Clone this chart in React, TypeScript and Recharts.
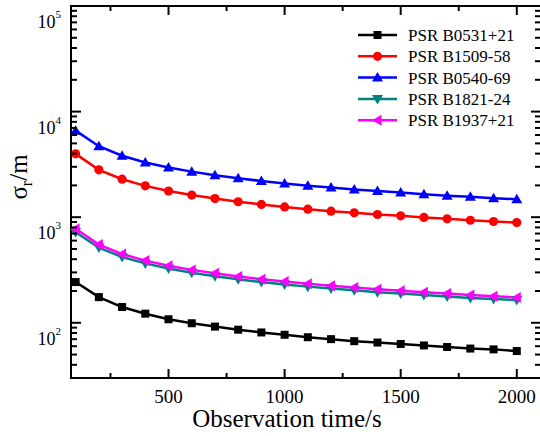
import React from "react";
import { LineChart, Line, XAxis, YAxis, Legend, ReferenceArea } from "recharts";

// observation time (s)
const times = [100, 200, 300, 400, 500, 600, 700, 800, 900, 1000, 1100, 1200, 1300, 1400, 1500, 1600, 1700, 1800, 1900, 2000];

// sigma_r (m)
const b0531 = [243, 175, 141, 122, 108, 99, 92, 86, 81, 77, 73, 70, 67, 65, 63, 61, 59, 57, 56, 54];
const b1509 = [3980, 2810, 2290, 1980, 1770, 1620, 1500, 1400, 1320, 1250, 1190, 1140, 1100, 1060, 1030, 995, 965, 935, 910, 890];
const b0540 = [6600, 4700, 3820, 3300, 2950, 2700, 2500, 2340, 2200, 2090, 1990, 1910, 1830, 1770, 1710, 1650, 1600, 1560, 1515, 1480];
const b1821 = [720, 515, 420, 365, 326, 298, 276, 258, 243, 231, 220, 211, 203, 195, 189, 183, 177, 172, 168, 164];
const b1937 = [777, 550, 448, 388, 347, 317, 294, 275, 259, 246, 234, 224, 216, 208, 201, 195, 189, 183, 178, 174];

const xMajor = [500, 1000, 1500, 2000];
const xMinor = [250, 750, 1250, 1750];
const yMajor = [100, 1000, 10000, 100000];
const yMinor = [40, 50, 60, 70, 80, 90, 200, 300, 400, 500, 600, 700, 800, 900, 2000, 3000, 4000, 5000, 6000, 7000, 8000, 9000, 20000, 30000, 40000, 50000, 60000, 70000, 80000, 90000];

const X_DOMAIN = [80, 2100];
const Y_DOMAIN = [30, 100000];

const series = [
  { key: "b0531", name: "PSR B0531+21", color: "#000000", shape: "square" },
  { key: "b1509", name: "PSR B1509-58", color: "#ff0000", shape: "circle" },
  { key: "b0540", name: "PSR B0540-69", color: "#0000ff", shape: "up" },
  { key: "b1821", name: "PSR B1821-24", color: "#008080", shape: "down" },
  { key: "b1937", name: "PSR B1937+21", color: "#ff00ff", shape: "left" },
];

const data = times.map((t, i) => ({
  t,
  b0531: b0531[i],
  b1509: b1509[i],
  b0540: b0540[i],
  b1821: b1821[i],
  b1937: b1937[i],
}));

const W = 540;
const H = 436;
const M = { top: 6, right: 0, bottom: 0, left: 0 };
const Y_W = 71;
const X_H = 58;
const PLOT_W = W - M.left - M.right - Y_W;
const PLOT_H = H - M.top - M.bottom - X_H;

const Marker = ({ cx, cy, shape, color }: any) => {
  if (cx == null || cy == null) return null;
  if (shape === "square") return <rect x={cx - 4} y={cy - 4} width={8} height={8} fill={color} />;
  if (shape === "circle") return <circle cx={cx} cy={cy} r={4.6} fill={color} />;
  if (shape === "up")
    return <polygon points={`${cx},${cy - 5.5} ${cx + 5.5},${cy + 4} ${cx - 5.5},${cy + 4}`} fill={color} />;
  if (shape === "down")
    return <polygon points={`${cx},${cy + 5.5} ${cx + 5.5},${cy - 4} ${cx - 5.5},${cy - 4}`} fill={color} />;
  return <polygon points={`${cx - 5.5},${cy} ${cx + 4},${cy - 5.5} ${cx + 4},${cy + 5.5}`} fill={color} />;
};

// ticks point inwards, mirrored on the top edge
const XTick = ({ x, y, payload }: any) => {
  const major = xMajor.includes(payload.value);
  const len = major ? 9 : 5;
  return (
    <g>
      <line x1={x} x2={x} y1={y} y2={y - len} stroke="#000" strokeWidth={2} />
      <line x1={x} x2={x} y1={y - PLOT_H} y2={y - PLOT_H + len} stroke="#000" strokeWidth={2} />
      {major && (
        <text x={x} y={y} dy={25} textAnchor="middle" fontSize={19} fill="#000">
          {payload.value}
        </text>
      )}
    </g>
  );
};

// ticks point inwards, mirrored on the right edge
const YTick = ({ x, y, payload }: any) => {
  const exp = Math.log10(payload.value);
  const major = Math.abs(exp - Math.round(exp)) < 1e-6;
  const len = major ? 10 : 6;
  return (
    <g>
      <line x1={x} x2={x + len} y1={y} y2={y} stroke="#000" strokeWidth={2} />
      <line x1={x + PLOT_W} x2={x + PLOT_W - len + 1} y1={y} y2={y} stroke="#000" strokeWidth={2} />
      {major && (
        <text x={x - 10} y={y + 22} textAnchor="end" fontSize={18} fill="#000">
          10
          <tspan dy={-10} fontSize={11}>{Math.round(exp)}</tspan>
        </text>
      )}
    </g>
  );
};

const LegendBox = () => (
  <svg width={190} height={110}>
    {series.map((s, i) => {
      const cy = 13 + i * 21.3;
      return (
        <g key={s.key}>
          <line x1={6} x2={45} y1={cy} y2={cy} stroke={s.color} strokeWidth={2.5} />
          <Marker cx={25.5} cy={cy} shape={s.shape} color={s.color} />
          <text x={56} y={cy + 6} fontSize={17} fill="#000">
            {s.name}
          </text>
        </g>
      );
    })}
  </svg>
);

const frame = { stroke: "#000", strokeWidth: 2 };

export default function App() {
  return (
    <div style={{ position: "absolute", left: 0, top: 0 }}>
      <LineChart width={W} height={H} data={data} margin={M}>
        <XAxis xAxisId="x" dataKey="t" type="number" domain={X_DOMAIN} ticks={[...xMinor, ...xMajor]} interval={0} allowDataOverflow
          height={X_H} tickLine={false} tickSize={0} tickMargin={0} axisLine={frame} tick={<XTick />}
          label={{ content: () => (
            <text x={287} y={427} textAnchor="middle" fontSize={25} fill="#000">Observation time/s</text>
          ) }} />
        <YAxis yAxisId="y" type="number" scale="log" domain={Y_DOMAIN} ticks={[...yMinor, ...yMajor]} interval={0} allowDataOverflow
          width={Y_W} tickLine={false} tickSize={0} tickMargin={0} axisLine={frame} tick={<YTick />}
          label={{ content: () => (
            <text transform="translate(27,177) rotate(-90)" textAnchor="middle" fontSize={25} fill="#000">
              σ<tspan dy={5} fontSize={16}>r</tspan><tspan dy={-5}>/m</tspan>
            </text>
          ) }} />

        <ReferenceArea xAxisId="x" yAxisId="y" x1={X_DOMAIN[0]} x2={2106} y1={Y_DOMAIN[0]} y2={Y_DOMAIN[1]}
          ifOverflow="visible" fill="none" fillOpacity={0} stroke="#000" strokeWidth={2} />

        <Legend layout="vertical" align="center" verticalAlign="middle"
          wrapperStyle={{ left: 352, top: 22, width: 190, height: 110 }} content={() => <LegendBox />} />

        {series.map((s) => (
          <Line key={s.key} xAxisId="x" yAxisId="y" dataKey={s.key} name={s.name} stroke={s.color} strokeWidth={2.5}
            isAnimationActive={false}
            dot={(p: any) => <Marker key={`${s.key}-${p.index}`} cx={p.cx} cy={p.cy} shape={s.shape} color={s.color} />}
            activeDot={false} />
        ))}
      </LineChart>
    </div>
  );
}
